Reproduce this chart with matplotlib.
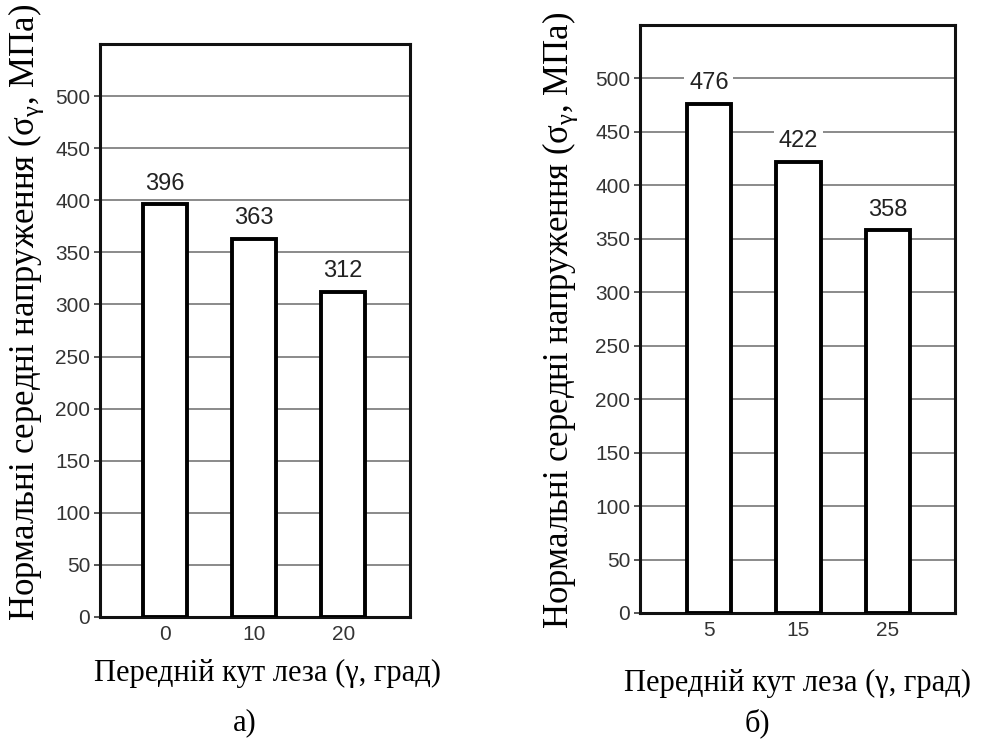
import matplotlib
matplotlib.use("Agg")
import matplotlib.pyplot as plt

# ---- data ----
cats_a = ["0", "10", "20"]
vals_a = [396, 363, 312]
cats_b = ["5", "15", "25"]
vals_b = [476, 422, 358]
yticks = [0, 50, 100, 150, 200, 250, 300, 350, 400, 450, 500]
ylabel_txt = "Нормальні середні напруження ($\\mathrm{σ}_{\\mathrm{γ}}$, МПа)"
xlabel_txt = "Передній кут леза (γ, град)"
captions = ["а)", "б)"]

plt.rcParams['mathtext.fontset'] = 'custom'
plt.rcParams['mathtext.rm'] = 'Liberation Serif'
plt.rcParams['mathtext.it'] = 'Liberation Serif:italic'

W, H = 984, 742
fig = plt.figure(figsize=(W / 100, H / 100), dpi=100)

tick_font = ['Liberation Sans', 'DejaVu Sans']
serif = ['Liberation Serif', 'DejaVu Serif']


def panel(rect, cats, vals, xlim):
    ax = fig.add_axes(rect)
    x = list(range(len(cats)))
    ax.set_axisbelow(True)
    ax.yaxis.grid(True, color='#8a8a8a', linewidth=1.4)
    bars = ax.bar(x, vals, width=0.5, color='white', edgecolor='black',
                  linewidth=2.8, zorder=3)
    for b, v in zip(bars, vals):
        ax.annotate(str(v), (b.get_x() + b.get_width() / 2, v),
                    xytext=(0, 7), textcoords='offset points',
                    ha='center', va='bottom', fontsize=17,
                    family=tick_font, color='#222222', zorder=4,
                    bbox=dict(boxstyle='square,pad=0.2', fc='white', ec='none'))
    ax.set_ylim(0, 550)
    ax.set_xlim(*xlim)
    ax.set_yticks(yticks)
    ax.set_xticks(x)
    ax.set_xticklabels(cats)
    for lab in ax.get_xticklabels() + ax.get_yticklabels():
        lab.set_family(tick_font)
        lab.set_fontsize(15)
        lab.set_color('#333333')
    ax.tick_params(axis='y', length=4, width=1.4, color='#555555', pad=3)
    ax.tick_params(axis='x', length=0, pad=6)
    for s in ax.spines.values():
        s.set_linewidth(2.2)
        s.set_color('#111111')
    return ax


ax1 = panel([100 / W, 1 - 617 / H, 310 / W, (617 - 44) / H], cats_a, vals_a, (-0.73, 2.75))
ax2 = panel([640 / W, 1 - 613 / H, 315 / W, (613 - 25) / H], cats_b, vals_b, (-0.77, 2.75))

# axis titles and captions
fig.text(26 / W, 1 - 312 / H, ylabel_txt, rotation=90, ha='center', va='center',
         fontsize=25, family=serif)
fig.text(560 / W, 1 - 320 / H, ylabel_txt, rotation=90, ha='center', va='center',
         fontsize=25, family=serif)
fig.text(268 / W, 1 - 673 / H, xlabel_txt, ha='center', va='center',
         fontsize=22, family=serif)
fig.text(798 / W, 1 - 683 / H, xlabel_txt, ha='center', va='center',
         fontsize=22, family=serif)
fig.text(245 / W, 1 - 723 / H, captions[0], ha='center', va='center',
         fontsize=22, family=serif)
fig.text(757 / W, 1 - 723 / H, captions[1], ha='center', va='center',
         fontsize=22, family=serif)

fig.savefig("out.png", dpi=100)
